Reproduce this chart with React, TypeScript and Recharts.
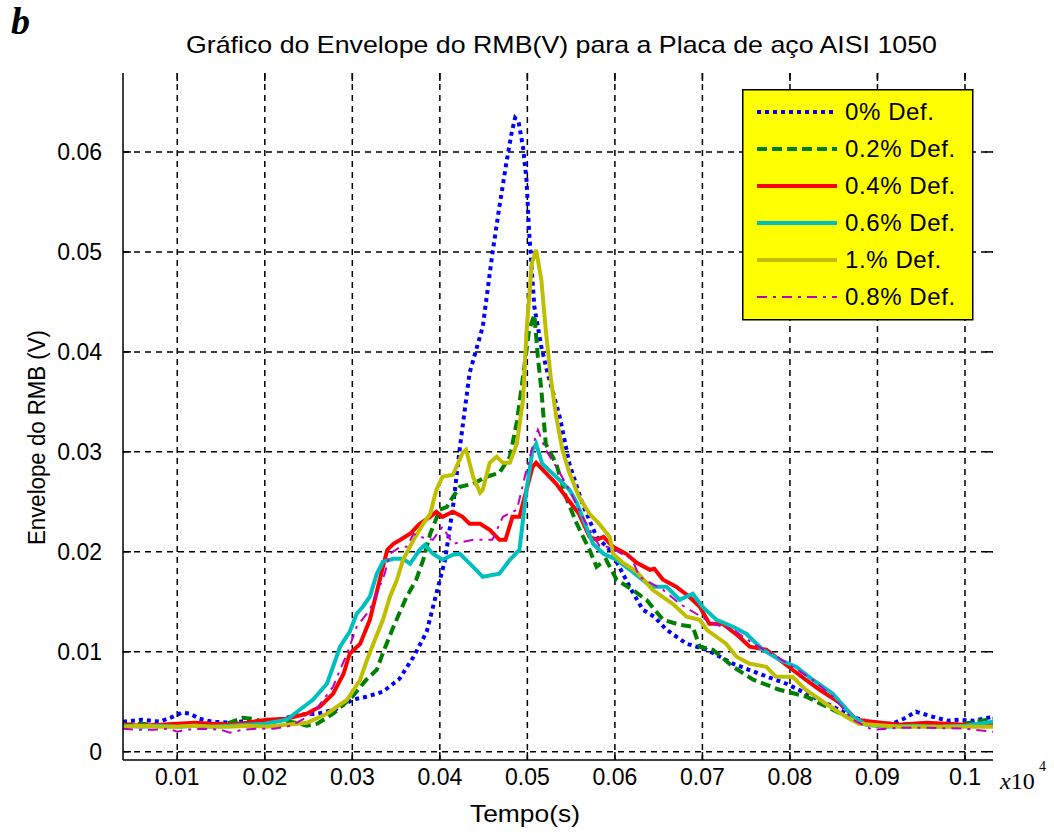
import React from 'react';
import { LineChart, Line, XAxis, YAxis, CartesianGrid, ReferenceLine, Legend } from 'recharts';

// Axis ranges and tick values (time axis is scaled by 10^4)
const X_MIN = 0.0038;
const X_MAX = 0.1032;
const Y_MIN = -0.00083;
const Y_MAX = 0.0679;
const xTicks = [0.01, 0.02, 0.03, 0.04, 0.05, 0.06, 0.07, 0.08, 0.09, 0.1];
const yTicks = [0, 0.01, 0.02, 0.03, 0.04, 0.05, 0.06];

// 0% Def.
const t0 = [
  0.0038, 0.006, 0.008, 0.0095, 0.0105, 0.0115, 0.0125, 0.014, 0.016, 0.018,
  0.02, 0.022, 0.024, 0.026, 0.028, 0.03, 0.0316, 0.0335, 0.0354, 0.037,
  0.0385, 0.0396, 0.0406, 0.0415, 0.0423, 0.0434, 0.0449, 0.046, 0.0468, 0.0476,
  0.0482, 0.0486, 0.049, 0.0495, 0.0499, 0.0502, 0.0508, 0.0516, 0.0523, 0.0537,
  0.0548, 0.0563, 0.0579, 0.0594, 0.0605, 0.062, 0.0632, 0.0645, 0.0659, 0.0682,
  0.0705, 0.0735, 0.0765, 0.0796, 0.0826, 0.0849, 0.0872, 0.0894, 0.0917, 0.093,
  0.0944, 0.0963, 0.098, 0.0993, 0.101, 0.1032,
];
const v0 = [
  0.0030, 0.0032, 0.0030, 0.0035, 0.0039, 0.0038, 0.0033, 0.0030, 0.0029, 0.0031,
  0.0030, 0.0033, 0.0037, 0.0038, 0.0042, 0.0052, 0.0055, 0.0060, 0.0073, 0.0095,
  0.0120, 0.0158, 0.0192, 0.0245, 0.0305, 0.0379, 0.0425, 0.0498, 0.0545, 0.0589,
  0.0619, 0.0634, 0.0630, 0.0605, 0.0572, 0.0520, 0.0445, 0.0405, 0.0379, 0.0335,
  0.0288, 0.0248, 0.0215, 0.0202, 0.0185, 0.0160, 0.0142, 0.0135, 0.0122, 0.0108,
  0.0102, 0.0088, 0.0078, 0.0068, 0.0055, 0.0045, 0.0035, 0.0028, 0.0028, 0.0033,
  0.0040, 0.0035, 0.0031, 0.0032, 0.0031, 0.0035,
];

// 0.2% Def.
const t1 = [
  0.0038, 0.006, 0.008, 0.01, 0.012, 0.014, 0.016, 0.0175, 0.0185, 0.02,
  0.022, 0.0235, 0.0248, 0.026, 0.0278, 0.03, 0.0316, 0.0328, 0.0335, 0.0347,
  0.0362, 0.0373, 0.0381, 0.0389, 0.04, 0.0408, 0.0415, 0.0423, 0.0438, 0.0453,
  0.0468, 0.048, 0.0488, 0.0495, 0.0502, 0.0508, 0.0512, 0.0516, 0.0521, 0.0533,
  0.0544, 0.0556, 0.0571, 0.0579, 0.059, 0.0602, 0.062, 0.0636, 0.0655, 0.0674,
  0.0689, 0.0697, 0.0712, 0.0735, 0.0758, 0.0788, 0.0819, 0.0842, 0.0872, 0.0894,
  0.092, 0.095, 0.098, 0.1, 0.1032,
];
const v1 = [
  0.0027, 0.0028, 0.0026, 0.0027, 0.0028, 0.0027, 0.0029, 0.0034, 0.0033, 0.0030,
  0.0031, 0.0029, 0.0026, 0.0028, 0.0038, 0.0055, 0.0072, 0.0082, 0.0099, 0.0125,
  0.0155, 0.0172, 0.0192, 0.0218, 0.0242, 0.0245, 0.0255, 0.0265, 0.0268, 0.0275,
  0.0279, 0.0295, 0.0330, 0.0375, 0.0422, 0.0437, 0.0395, 0.0362, 0.0308, 0.0288,
  0.0255, 0.0229, 0.0202, 0.0185, 0.0192, 0.0172, 0.0162, 0.0152, 0.0132, 0.0127,
  0.0125, 0.0105, 0.0102, 0.0085, 0.0072, 0.0062, 0.0055, 0.0045, 0.0032, 0.0028,
  0.0027, 0.0028, 0.0027, 0.0028, 0.0033,
];

// 0.4% Def.
const t2 = [
  0.0038, 0.006, 0.008, 0.01, 0.012, 0.014, 0.016, 0.018, 0.0202, 0.0225,
  0.0248, 0.0263, 0.0278, 0.029, 0.0297, 0.0309, 0.032, 0.0328, 0.0335, 0.034,
  0.0347, 0.0355, 0.0366, 0.0377, 0.0389, 0.0396, 0.0403, 0.0415, 0.0426, 0.0434,
  0.0446, 0.0457, 0.0468, 0.0475, 0.0483, 0.0491, 0.0499, 0.0506, 0.051, 0.0521,
  0.0533, 0.0544, 0.0559, 0.0571, 0.0579, 0.0587, 0.0598, 0.0613, 0.0625, 0.064,
  0.0645, 0.0655, 0.067, 0.0685, 0.0697, 0.0708, 0.0723, 0.0742, 0.0754, 0.0773,
  0.0788, 0.0803, 0.0818, 0.0834, 0.0857, 0.0876, 0.0894, 0.0925, 0.0956, 0.1,
  0.1032,
];
const v2 = [
  0.0027, 0.0026, 0.0027, 0.0028, 0.0029, 0.0028, 0.0027, 0.0029, 0.0032, 0.0033,
  0.0038, 0.0045, 0.0058, 0.0078, 0.0098, 0.0108, 0.0132, 0.0160, 0.0185, 0.0202,
  0.0208, 0.0212, 0.0218, 0.0228, 0.0235, 0.0240, 0.0235, 0.0240, 0.0235, 0.0228,
  0.0228, 0.0222, 0.0212, 0.0212, 0.0235, 0.0235, 0.0262, 0.0285, 0.0289, 0.0279,
  0.0268, 0.0255, 0.0238, 0.0215, 0.0212, 0.0215, 0.0205, 0.0198, 0.0189, 0.0182,
  0.0183, 0.0172, 0.0165, 0.0155, 0.0145, 0.0128, 0.0128, 0.0115, 0.0105, 0.0102,
  0.0092, 0.0082, 0.0072, 0.0062, 0.0049, 0.0032, 0.0030, 0.0027, 0.0029, 0.0027,
  0.0027,
];

// 0.6% Def.
const t3 = [
  0.0038, 0.006, 0.008, 0.01, 0.012, 0.014, 0.016, 0.018, 0.02, 0.0225,
  0.024, 0.0255, 0.0271, 0.0278, 0.0286, 0.0297, 0.0305, 0.0312, 0.032, 0.0328,
  0.0335, 0.0347, 0.0358, 0.0366, 0.0377, 0.0383, 0.0392, 0.0403, 0.0415, 0.0423,
  0.0438, 0.0449, 0.0468, 0.048, 0.0491, 0.0499, 0.0506, 0.051, 0.0517, 0.0533,
  0.0548, 0.0556, 0.0565, 0.0575, 0.0587, 0.0602, 0.0617, 0.0636, 0.0643, 0.0659,
  0.0674, 0.0689, 0.07, 0.0716, 0.0735, 0.075, 0.0769, 0.0788, 0.0807, 0.0826,
  0.0849, 0.0872, 0.0887, 0.091, 0.094, 0.097, 0.1, 0.1032,
];
const v3 = [
  0.0026, 0.0025, 0.0026, 0.0025, 0.0026, 0.0025, 0.0026, 0.0027, 0.0028, 0.0032,
  0.0042, 0.0052, 0.0068, 0.0085, 0.0105, 0.0120, 0.0138, 0.0145, 0.0155, 0.0178,
  0.0190, 0.0193, 0.0193, 0.0188, 0.0202, 0.0207, 0.0198, 0.0192, 0.0197, 0.0198,
  0.0185, 0.0175, 0.0178, 0.0192, 0.0202, 0.0262, 0.0302, 0.0308, 0.0288, 0.0275,
  0.0262, 0.0250, 0.0230, 0.0208, 0.0198, 0.0192, 0.0182, 0.0169, 0.0165, 0.0165,
  0.0152, 0.0158, 0.0145, 0.0132, 0.0125, 0.0118, 0.0102, 0.0092, 0.0085, 0.0072,
  0.0058, 0.0035, 0.0027, 0.0025, 0.0026, 0.0025, 0.0026, 0.0030,
];

// 1.% Def.
const t4 = [
  0.0038, 0.006, 0.008, 0.01, 0.012, 0.014, 0.016, 0.018, 0.0202, 0.0225,
  0.0248, 0.0271, 0.0294, 0.0309, 0.0316, 0.0324, 0.0335, 0.0343, 0.0351, 0.0358,
  0.037, 0.0381, 0.0389, 0.0396, 0.0403, 0.0415, 0.0426, 0.043, 0.0438, 0.0446,
  0.0449, 0.0457, 0.0465, 0.0472, 0.048, 0.0488, 0.0495, 0.0499, 0.0505, 0.051,
  0.0516, 0.0521, 0.0527, 0.0533, 0.054, 0.0548, 0.0559, 0.0571, 0.0582, 0.0594,
  0.0598, 0.0609, 0.0625, 0.0643, 0.0666, 0.0682, 0.0697, 0.0705, 0.0716, 0.0727,
  0.0739, 0.0754, 0.0773, 0.0784, 0.0803, 0.0818, 0.0841, 0.0864, 0.0879, 0.0925,
  0.096, 0.1, 0.1032,
];
const v4 = [
  0.0025, 0.0026, 0.0025, 0.0025, 0.0026, 0.0025, 0.0025, 0.0026, 0.0025, 0.0027,
  0.0029, 0.0038, 0.0052, 0.0072, 0.0090, 0.0108, 0.0132, 0.0155, 0.0172, 0.0192,
  0.0212, 0.0228, 0.0238, 0.0262, 0.0275, 0.0277, 0.0299, 0.0302, 0.0275, 0.0259,
  0.0262, 0.0289, 0.0295, 0.0289, 0.0289, 0.0308, 0.0352, 0.0420, 0.0488, 0.0502,
  0.0472, 0.0422, 0.0372, 0.0335, 0.0302, 0.0279, 0.0255, 0.0238, 0.0228, 0.0215,
  0.0198, 0.0189, 0.0180, 0.0162, 0.0148, 0.0135, 0.0132, 0.0122, 0.0115, 0.0108,
  0.0095, 0.0088, 0.0085, 0.0075, 0.0075, 0.0062, 0.0048, 0.0035, 0.0028, 0.0025,
  0.0025, 0.0025, 0.0025,
];

// 0.8% Def.
const t5 = [
  0.0038, 0.0055, 0.0073, 0.009, 0.01, 0.011, 0.013, 0.015, 0.016, 0.0175,
  0.019, 0.021, 0.023, 0.0255, 0.0278, 0.0286, 0.0294, 0.0305, 0.032, 0.0328,
  0.0337, 0.0343, 0.0355, 0.0362, 0.037, 0.0377, 0.0392, 0.0403, 0.0415, 0.0438,
  0.046, 0.0472, 0.0488, 0.0499, 0.0506, 0.0512, 0.0521, 0.0533, 0.0548, 0.0559,
  0.0571, 0.0583, 0.0594, 0.062, 0.0628, 0.0655, 0.0674, 0.0693, 0.0712, 0.0735,
  0.0758, 0.078, 0.0803, 0.0826, 0.0849, 0.0872, 0.0894, 0.0925, 0.0956, 0.1,
  0.1032,
];
const v5 = [
  0.0023, 0.0022, 0.0022, 0.0023, 0.0020, 0.0022, 0.0023, 0.0022, 0.0019, 0.0022,
  0.0023, 0.0023, 0.0026, 0.0038, 0.0065, 0.0082, 0.0098, 0.0125, 0.0142, 0.0158,
  0.0178, 0.0198, 0.0205, 0.0205, 0.0218, 0.0215, 0.0212, 0.0225, 0.0208, 0.0212,
  0.0212, 0.0235, 0.0242, 0.0282, 0.0305, 0.0322, 0.0302, 0.0285, 0.0262, 0.0242,
  0.0222, 0.0205, 0.0205, 0.0192, 0.0175, 0.0162, 0.0148, 0.0138, 0.0128, 0.0122,
  0.0108, 0.0098, 0.0085, 0.0072, 0.0055, 0.0032, 0.0022, 0.0024, 0.0024, 0.0023,
  0.0020,
];

const seriesNames = ['0% Def.', '0.2% Def.', '0.4% Def.', '0.6% Def.', '1.% Def.', '0.8% Def.'];
const seriesTimes = [t0, t1, t2, t3, t4, t5];
const seriesValues = [v0, v1, v2, v3, v4, v5];
const seriesStyles = [
  { color: '#0000FF', width: 4, dash: '4 4' },
  { color: '#008000', width: 4, dash: '10 5' },
  { color: '#FF0000', width: 4, dash: undefined },
  { color: '#00BFBF', width: 4, dash: undefined },
  { color: '#BFBF00', width: 4, dash: undefined },
  { color: '#BF00BF', width: 2, dash: '10 6 3 6' },
];

const series = seriesNames.map((name, i) => ({
  name,
  ...seriesStyles[i],
  data: seriesTimes[i].map((t, j) => ({ t, v: seriesValues[i][j] })),
}));

const FONT = '"Liberation Sans", Arial, Helvetica, sans-serif';
const SERIF = '"Liberation Serif", "Times New Roman", serif';
const TICK_X = 0.00091; // inward tick length in x units (~8px)
const TICK_Y = 0.0008; // inward tick length in y units (~8px)

const LegendBox = () => (
  <svg width={232} height={232} style={{ display: 'block' }}>
    <rect x={0.75} y={0.75} width={230} height={230} fill="#FFFF00" stroke="#000" strokeWidth={1.5} />
    {series.map((s, i) => {
      const y = 23 + i * 37;
      return (
        <g key={s.name}>
          <line x1={15} x2={95} y1={y} y2={y} stroke={s.color} strokeWidth={s.width}
            strokeDasharray={s.dash} />
          <text x={103} y={y + 8} fontFamily={FONT} fontSize={24} letterSpacing={0.6}
            fill="#000">{s.name}</text>
        </g>
      );
    })}
  </svg>
);

export default function App() {
  return (
    <div style={{ position: 'absolute', left: 0, top: 0, background: '#fff' }}>
      <LineChart width={1054} height={833} margin={{ top: 73, right: 61, bottom: 0, left: 0 }}>
        <CartesianGrid stroke="#000" strokeWidth={1.5} strokeDasharray="6 5"
          horizontalValues={yTicks} verticalValues={xTicks} />
        <XAxis dataKey="t" type="number" domain={[X_MIN, X_MAX]} allowDataOverflow
          ticks={xTicks} height={73} tickSize={0} tickMargin={9} interval={0}
          axisLine={{ stroke: '#000', strokeWidth: 1.5 }} tickLine={false}
          tick={{ fill: '#000', fontSize: 23, fontFamily: FONT }}
          tickFormatter={(v) => String(v)} />
        <YAxis type="number" domain={[Y_MIN, Y_MAX]} allowDataOverflow ticks={yTicks}
          width={123} tickSize={0} tickMargin={21} interval={0}
          axisLine={{ stroke: '#000', strokeWidth: 1.5 }} tickLine={false}
          tick={{ fill: '#000', fontSize: 23, fontFamily: FONT }}
          tickFormatter={(v) => String(v)} />
        {xTicks.map((t) => (
          <ReferenceLine key={'xb' + t} ifOverflow="visible" stroke="#000" strokeWidth={1.5}
            segment={[{ x: t, y: Y_MIN }, { x: t, y: Y_MIN + TICK_Y }]} />
        ))}
        {xTicks.map((t) => (
          <ReferenceLine key={'xt' + t} ifOverflow="visible" stroke="#000" strokeWidth={1.5}
            segment={[{ x: t, y: Y_MAX }, { x: t, y: Y_MAX - TICK_Y }]} />
        ))}
        {yTicks.map((v) => (
          <ReferenceLine key={'yl' + v} ifOverflow="visible" stroke="#000" strokeWidth={1.5}
            segment={[{ x: X_MIN, y: v }, { x: X_MIN + TICK_X, y: v }]} />
        ))}
        {yTicks.map((v) => (
          <ReferenceLine key={'yr' + v} ifOverflow="visible" stroke="#000" strokeWidth={1.5}
            segment={[{ x: X_MAX, y: v }, { x: X_MAX - TICK_X, y: v }]} />
        ))}
        {series.map((s) => (
          <Line key={s.name} data={s.data} dataKey="v" name={s.name} type="linear"
            stroke={s.color} strokeWidth={s.width} strokeDasharray={s.dash}
            strokeLinecap="butt" strokeLinejoin="miter"
            dot={false} activeDot={false} isAnimationActive={false} />
        ))}
        <Legend layout="horizontal" verticalAlign="middle" align="center"
          wrapperStyle={{ position: 'absolute', left: 742, top: 89, width: 232, height: 232, margin: 0, padding: 0 }}
          content={() => <LegendBox />} />
        <text x={11} y={34} fontFamily={SERIF} fontStyle="italic" fontWeight="bold"
          fontSize={38} fill="#000">b</text>
        <text x={186} y={53} textLength={751} lengthAdjust="spacingAndGlyphs"
          fontFamily={FONT} fontSize={24} fill="#000">
          Gráfico do Envelope do RMB(V) para a Placa de aço AISI 1050
        </text>
        <text x={470} y={822} textLength={110} lengthAdjust="spacingAndGlyphs"
          fontFamily={FONT} fontSize={24} fill="#000">Tempo(s)</text>
        <text transform="rotate(-90)" x={-545} y={45} textLength={215} lengthAdjust="spacingAndGlyphs"
          fontFamily={FONT} fontSize={23} fill="#000">Envelope do RMB (V)</text>
        <text x={1000} y={789} fontFamily={SERIF} fontSize={24} fill="#000">
          <tspan fontStyle="italic">x</tspan>10
        </text>
        <text x={1039} y={771} fontFamily={SERIF} fontSize={14} fill="#000">4</text>
      </LineChart>
    </div>
  );
}
